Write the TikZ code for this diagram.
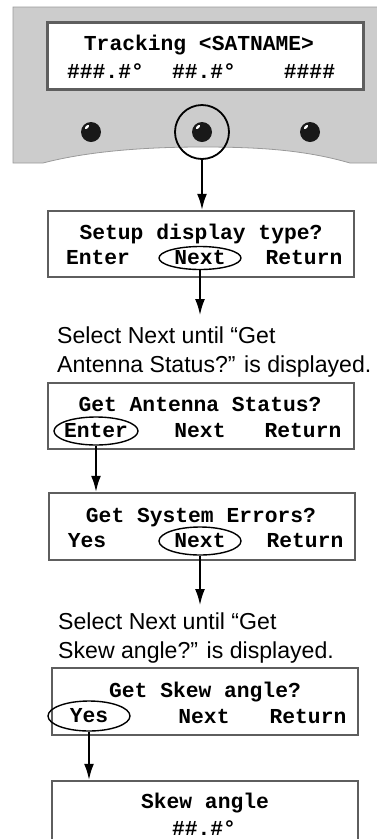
\documentclass[tikz,border=0pt]{standalone}
\usepackage{fontspec}
\setmainfont{Liberation Sans}
\newfontfamily\lcdfont{Liberation Mono}
\usetikzlibrary{shapes.geometric,arrows.meta}

\definecolor{panelgray}{HTML}{CCCCCC}
\definecolor{paneledge}{HTML}{9A9A9A}
\definecolor{lcdedge}{HTML}{5E5E5E}

\begin{document}
\begin{tikzpicture}[
    x=1pt, y=-1pt,
    lcd/.style={rectangle, draw=lcdedge, line width=2.5pt, fill=white, minimum width=306pt, minimum height=66pt, inner sep=0pt},
    lcdtext/.style={font={\lcdfont\bfseries\fontsize{21.3}{25}\selectfont}, inner sep=0pt, anchor=base},
    pick/.style={ellipse, draw, line width=1.4pt, inner sep=0pt, minimum width=82pt, minimum height=26pt, font={\lcdfont\bfseries\fontsize{21.3}{25}\selectfont}},
    knob/.style={circle, fill=black!90, minimum size=20pt, inner sep=0pt},
    note/.style={font={\fontsize{23.1}{29}\selectfont}, align=left, anchor=north west, inner xsep=0pt, inner ysep=12pt},
    arrow/.style={-{Latex[length=16pt, width=10pt]}, line width=1.8pt}
]
\useasboundingbox (0,0) rectangle (377,839);

% FRONT PANEL
\draw[fill=panelgray, draw=paneledge, line width=0.8pt]
    (13,7) -- (385,7) -- (385,163) -- (350,163)
    .. controls (305,150) and (260,147) .. (202,147)
    .. controls (140,147) and (85,152) .. (43,163) -- (13,163) -- cycle;
\node[lcd, line width=3pt, minimum width=316pt, minimum height=67pt] (lcdTrack) at (205,55.5) {};
\node[lcdtext] (trackTitle) at (199,50) {Tracking <SATNAME>};
\node[lcdtext] (trackAz) at (105.5,78) {\#\#\#.\#°};
\node[lcdtext] (trackEl) at (204,78) {\#\#.\#°};
\node[lcdtext] (trackSig) at (309.5,78) {\#\#\#\#};

% Buttons
\foreach \kx/\kn in {91/knobL, 202/knobM, 310/knobR} {
    \node[knob] (\kn) at (\kx,132) {};
    \fill[white, rotate around={45:(\kx-4,127)}] (\kx-4,127) ellipse (2.6pt and 1.3pt);
}
\node[circle, draw, line width=1.8pt, minimum size=54pt, inner sep=0pt] (ring) at (202,132) {};

% SETUP DISPLAY
\node[lcd] (lcdSetup) at (201,244) {};
\node[lcdtext] (setupTitle) at (201,239) {Setup display type?};
\node[lcdtext] (setupEnter) at (98,264) {Enter};
\node[pick, minimum height=23pt] (setupNext) at (200,258) {Next};
\node[lcdtext] (setupReturn) at (304,264) {Return};

\node[note] (noteA) at (57,315) {Select Next until “Get\\Antenna Status?” is displayed.};

% ANTENNA STATUS
\node[lcd] (lcdAntenna) at (201,416) {};
\node[lcdtext] (antTitle) at (200,411) {Get Antenna Status?};
\node[pick, minimum width=84pt, minimum height=28pt, inner xsep=-4pt] (antEnter) at (96,431) {Enter};
\node[lcdtext] (antNext) at (200,437) {Next};
\node[lcdtext] (antReturn) at (303,437) {Return};

% SYSTEM ERRORS
\node[lcd, minimum height=67pt] (lcdErrors) at (202,526.5) {};
\node[lcdtext] (errTitle) at (201,522) {Get System Errors?};
\node[lcdtext] (errYes) at (87,547) {Yes};
\node[pick, minimum height=28pt] (errNext) at (200,541) {Next};
\node[lcdtext] (errReturn) at (305,547) {Return};

\node[note, inner ysep=8pt] (noteB) at (58,605) {Select Next until “Get\\Skew angle?” is displayed.};

% SKEW ANGLE
\node[lcd, minimum height=67pt] (lcdSkew) at (205,701.5) {};
\node[lcdtext] (skewTitle) at (205,697) {Get Skew angle?};
\node[pick, minimum height=30pt] (skewYes) at (89,716) {Yes};
\node[lcdtext] (skewNext) at (204,723) {Next};
\node[lcdtext] (skewReturn) at (308,723) {Return};

\node[lcd, minimum height=80pt] (lcdAngle) at (205,821) {};
\node[lcdtext] (angleTitle) at (205,808) {Skew angle};
\node[lcdtext] (angleValue) at (204,835) {\#\#.\#°};

% Conexiones
\draw[arrow] (ring.south) -- (ring.south |- lcdSetup.north);
\draw[arrow] (setupNext.south) -- (setupNext.south |- noteA.north);
\draw[arrow] (antEnter.south) -- (antEnter.south |- lcdErrors.north);
\draw[arrow] (errNext.south) -- (errNext.south |- noteB.north);
\draw[arrow] (skewYes.south) -- (skewYes.south |- lcdAngle.north);

\end{tikzpicture}
\end{document}
